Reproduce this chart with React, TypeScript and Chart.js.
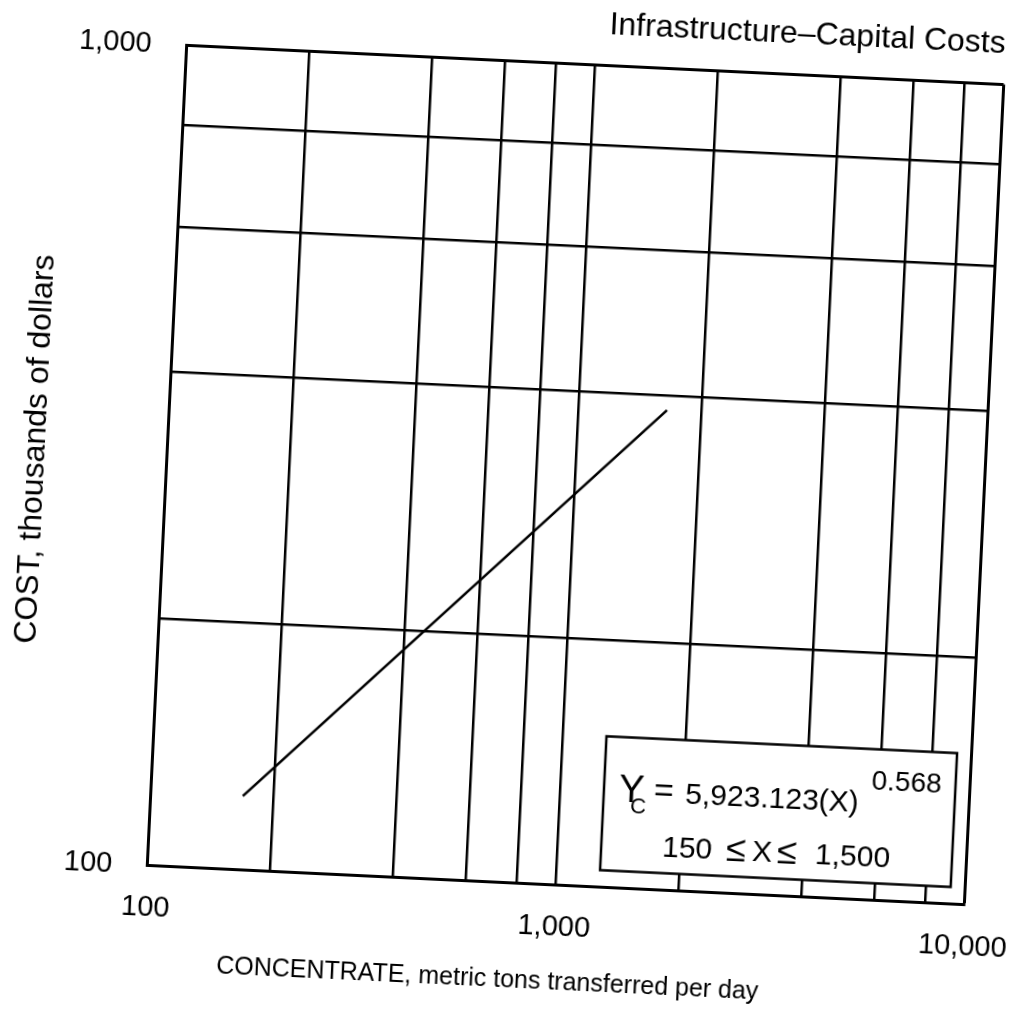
import React, { useEffect, useRef } from 'react';
import { Chart, registerables } from 'chart.js';

Chart.register(...registerables);

const FONT = '"Liberation Sans", Arial, sans-serif';

// ---- data ----
const xGridValues = [100, 200, 400, 600, 800, 1000, 2000, 4000, 6000, 8000, 10000];
const xLabelValues = [100, 1000, 10000];
const yGridValues = [100, 200, 400, 600, 800, 1000];
const yLabelValues = [100, 1000];
const concentrate = [168, 1644];
const cost = [123, 384];

const chartTitle = 'Infrastructure–Capital Costs';
const xTitle = 'CONCENTRATE, metric tons transferred per day';
const yTitle = 'COST, thousands of dollars';
const eqCoef = '5,923.123(X)';
const eqExp = '0.568';
const eqRangeLow = '150';
const eqRangeHigh = '1,500';

const fmt = (v: number) => v.toLocaleString('en-US');

const annotationPlugin = {
  id: 'annotations',
  afterDraw(chart: any) {
    const { ctx, chartArea: a } = chart;
    ctx.save();
    ctx.fillStyle = '#000';
    ctx.textAlign = 'center';
    ctx.textBaseline = 'middle';
    ctx.font = `25px ${FONT}`;
    ctx.fillText(xTitle, a.left + 345, a.bottom + 97.5);

    const w = 351;
    const h = 134;
    const bx = a.right - 14.5 - w;
    const by = a.bottom - 17 - h;
    ctx.fillStyle = '#fff';
    ctx.fillRect(bx, by, w, h);
    ctx.strokeStyle = '#000';
    ctx.lineWidth = 2.5;
    ctx.strokeRect(bx, by, w, h);

    ctx.fillStyle = '#000';
    ctx.textAlign = 'left';
    ctx.textBaseline = 'alphabetic';
    ctx.font = `38px ${FONT}`;
    ctx.fillText('Y', bx + 15, by + 64);
    ctx.font = `22px ${FONT}`;
    ctx.fillText('C', bx + 27, by + 75);
    ctx.font = `34px ${FONT}`;
    ctx.fillText('=', bx + 50, by + 62);
    ctx.font = `30px ${FONT}`;
    ctx.fillText(eqCoef, bx + 81.6, by + 63.5);
    ctx.font = `28px ${FONT}`;
    ctx.fillText(eqExp, bx + 267, by + 40.5);
    ctx.font = `30px ${FONT}`;
    ctx.fillText(eqRangeLow, bx + 61, by + 117.5);
    ctx.fillText('X', bx + 151, by + 117.5);
    ctx.fillText(eqRangeHigh, bx + 214, by + 117.5);
    ctx.font = `36px ${FONT}`;
    ctx.fillText('≤', bx + 125, by + 118);
    ctx.fillText('≤', bx + 176, by + 118);
    ctx.restore();
  },
};

export default function App() {
  const ref = useRef<HTMLCanvasElement | null>(null);

  useEffect(() => {
    if (!ref.current) return;
    const chart = new Chart(ref.current, {
      type: 'scatter',
      data: {
        datasets: [
          {
            data: concentrate.map((x, i) => ({ x, y: cost[i] })),
            showLine: true,
            borderColor: '#000',
            borderWidth: 2.5,
            pointRadius: 0,
            fill: false,
          },
        ],
      },
      options: {
        animation: false,
        responsive: false,
        devicePixelRatio: 1,
        layout: { padding: { left: 0, right: 95.5, top: 0, bottom: 0 } },
        plugins: {
          legend: { display: false },
          tooltip: { enabled: false },
          title: {
            display: true,
            text: chartTitle,
            align: 'end',
            color: '#000',
            font: { family: FONT, size: 32, weight: 'normal' },
            padding: { top: 5, bottom: 21.1 },
          },
        },
        scales: {
          x: {
            type: 'logarithmic',
            position: 'bottom',
            min: 100,
            max: 10000,
            afterBuildTicks: (s: any) => {
              s.ticks = xGridValues.map((v) => ({ value: v }));
            },
            afterFit: (s: any) => {
              s.height = 194.5;
            },
            ticks: {
              autoSkip: false,
              maxRotation: 0,
              minRotation: 0,
              padding: 25,
              color: '#000',
              font: { family: FONT, size: 29 },
              callback: (v: any) => (xLabelValues.includes(Number(v)) ? fmt(Number(v)) : ''),
            },
            grid: {
              color: '#000',
              lineWidth: (c: any) => (c.tick && c.tick.value === 10000 ? 3 : 2.5),
              drawTicks: false,
            },
            border: { display: true, color: '#000', width: 3 },
          },
          y: {
            type: 'logarithmic',
            position: 'left',
            min: 100,
            max: 1000,
            afterBuildTicks: (s: any) => {
              s.ticks = yGridValues.map((v) => ({ value: v }));
            },
            afterFit: (s: any) => {
              s.width = 166.5;
            },
            ticks: {
              autoSkip: false,
              padding: 35,
              color: '#000',
              font: { family: FONT, size: 29 },
              callback: (v: any) => (yLabelValues.includes(Number(v)) ? fmt(Number(v)) : ''),
            },
            grid: {
              color: '#000',
              lineWidth: (c: any) => (c.tick && c.tick.value === 1000 ? 3 : 2.5),
              drawTicks: false,
            },
            border: { display: true, color: '#000', width: 3 },
            title: {
              display: true,
              text: yTitle,
              color: '#000',
              font: { family: FONT, size: 32, weight: 'normal' },
              padding: { top: 15.5, bottom: 0 },
            },
          },
        },
      },
      plugins: [annotationPlugin],
    } as any);
    return () => chart.destroy();
  }, []);

  return (
    <div
      style={{
        position: 'fixed',
        left: 0,
        top: 0,
        width: 1012,
        height: 1014,
        overflow: 'hidden',
        background: '#fff',
      }}
    >
      <canvas
        ref={ref}
        width={1080}
        height={1080}
        style={{
          position: 'absolute',
          left: 0,
          top: 0,
          width: 1080,
          height: 1080,
          transformOrigin: '575.5px 475px',
          transform: 'rotate(2.75deg)',
        }}
      />
    </div>
  );
}
